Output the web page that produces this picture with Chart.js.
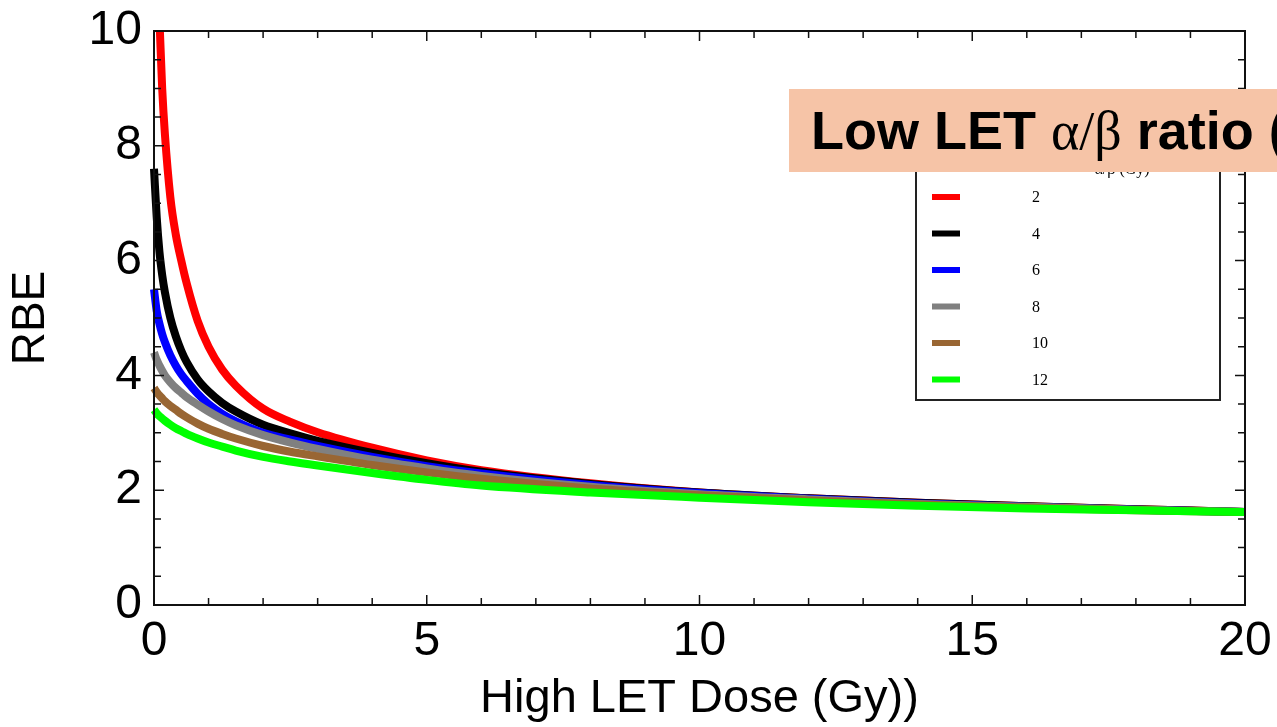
<!DOCTYPE html>
<html>
<head>
<meta charset="utf-8">
<script src="https://cdn.jsdelivr.net/npm/chart.js@4"></script>
<style>
  body { margin: 0; overflow: hidden; background: #fff; }
  #wrap { position: relative; width: 1277px; height: 727px; overflow: hidden; }
  #titulo {
    position: absolute; left: 789px; top: 89px; width: 520px; height: 83px;
    background: #f6c4a7; font: bold 54px "Liberation Sans", Arial, sans-serif;
    line-height: 83px; padding-left: 22px; white-space: nowrap; color: #000;
  }
  #titulo span { font-family: "Liberation Serif", serif; font-weight: normal; }
</style>
</head>
<body>
<div id="wrap">
  <canvas id="myChart" width="1277" height="727"></canvas>
  <div id="titulo">Low LET <span>&alpha;/&beta;</span> ratio (</div>
</div>
<script>
// datos
const dosis = [0, 0.05, 0.1, 0.15, 0.2, 0.3, 0.4, 0.5, 0.6, 0.8, 1, 1.25, 1.5, 2, 2.5, 3, 4, 5, 6, 8, 10, 12, 14, 16, 18, 20];
const etiquetas = ["2", "4", "6", "8", "10", "12"]; // alfa/beta
const rbe2 = [12.5, 11.3, 10.2, 9.0, 8.2, 7.1, 6.45, 6.0, 5.6, 4.95, 4.5, 4.1, 3.82, 3.42, 3.19, 3.01, 2.74, 2.52, 2.35, 2.12, 1.96, 1.86, 1.78, 1.72, 1.67, 1.62];
const rbe4 = [7.6, 6.75, 6.15, 5.75, 5.45, 5.0, 4.68, 4.43, 4.23, 3.93, 3.72, 3.52, 3.37, 3.14, 2.99, 2.86, 2.65, 2.47, 2.32, 2.11, 1.96, 1.86, 1.78, 1.72, 1.67, 1.62];
const rbe6 = [5.5, 5.12, 4.9, 4.72, 4.58, 4.35, 4.17, 4.02, 3.9, 3.68, 3.5, 3.33, 3.2, 3.0, 2.88, 2.77, 2.58, 2.42, 2.29, 2.09, 1.95, 1.85, 1.77, 1.71, 1.66, 1.62];
const rbe8 = [4.4, 4.27, 4.17, 4.08, 4.0, 3.88, 3.78, 3.7, 3.62, 3.49, 3.37, 3.24, 3.13, 2.96, 2.83, 2.72, 2.53, 2.38, 2.25, 2.06, 1.93, 1.84, 1.76, 1.71, 1.66, 1.62];
const rbe10 = [3.78, 3.71, 3.65, 3.6, 3.55, 3.47, 3.4, 3.33, 3.27, 3.16, 3.07, 2.98, 2.9, 2.77, 2.67, 2.59, 2.44, 2.31, 2.2, 2.03, 1.91, 1.82, 1.75, 1.7, 1.65, 1.62];
const rbe12 = [3.4, 3.34, 3.29, 3.25, 3.21, 3.14, 3.08, 3.03, 2.98, 2.9, 2.83, 2.76, 2.69, 2.58, 2.5, 2.43, 2.3, 2.18, 2.08, 1.96, 1.87, 1.79, 1.73, 1.68, 1.65, 1.62];
const colores = ["#ff0000", "#000000", "#0000ff", "#808080", "#996633", "#00ff00"];

const series = [rbe2, rbe4, rbe6, rbe8, rbe10, rbe12];

const datasets = series.map((valores, i) => {
  return {
    label: etiquetas[i],
    data: valores.map((v, j) => ({ x: dosis[j], y: v })),
    borderColor: colores[i],
    borderWidth: 8,
    pointRadius: 0,
    cubicInterpolationMode: "monotone",
    order: series.length - i, // el verde queda arriba
    clip: { left: 4, top: 0, right: 0, bottom: 0 }
  };
});

// marco con ticks hacia adentro en los cuatro lados
const marco = {
  id: "marco",
  afterDatasetsDraw(chart) {
    const ctx = chart.ctx;
    const a = chart.chartArea;
    const sx = chart.scales.x;
    const sy = chart.scales.y;
    ctx.save();
    ctx.strokeStyle = "#111";
    ctx.lineWidth = 2;
    ctx.strokeRect(a.left, a.top, a.right - a.left, a.bottom - a.top);
    ctx.lineWidth = 1.5;
    ctx.beginPath();
    for (let v = 0; v <= 20; v += 1) {
      const px = sx.getPixelForValue(v);
      const len = v % 5 === 0 ? 10 : 7;
      ctx.moveTo(px, a.bottom); ctx.lineTo(px, a.bottom - len);
      ctx.moveTo(px, a.top); ctx.lineTo(px, a.top + len);
    }
    for (let v = 0; v <= 10; v += 0.5) {
      const py = sy.getPixelForValue(v);
      const len = v % 2 === 0 ? 10 : 7;
      ctx.moveTo(a.left, py); ctx.lineTo(a.left + len, py);
      ctx.moveTo(a.right, py); ctx.lineTo(a.right - len, py);
    }
    ctx.stroke();

    // leyenda propia
    const x0 = 916, y0 = 140, x1 = 1220, y1 = 400;
    ctx.fillStyle = "#fff";
    ctx.fillRect(x0, y0, x1 - x0, y1 - y0);
    ctx.strokeStyle = "#222";
    ctx.lineWidth = 2;
    ctx.strokeRect(x0, y0, x1 - x0, y1 - y0);
    ctx.fillStyle = "#000";
    ctx.font = "16px 'Liberation Serif', serif";
    ctx.textBaseline = "alphabetic";
    ctx.textAlign = "center";
    ctx.fillText("\u03b1/\u03b2 (Gy)", 1122, 174);
    ctx.textAlign = "left";
    ctx.textBaseline = "middle";
    chart.data.datasets.forEach((ds, i) => {
      const y = 197 + i * 36.5;
      ctx.strokeStyle = ds.borderColor;
      ctx.lineWidth = 6;
      ctx.beginPath();
      ctx.moveTo(932, y); ctx.lineTo(960, y);
      ctx.stroke();
      ctx.fillStyle = "#000";
      ctx.fillText(ds.label, 1032, y + 1);
    });
    ctx.restore();
  }
};

const fuente = "'Liberation Sans', Arial, sans-serif";

new Chart(document.getElementById("myChart"), {
  type: "line",
  data: { datasets },
  plugins: [marco],
  options: {
    responsive: false,
    animation: false,
    layout: { padding: { top: 31, right: 32, left: 0, bottom: 0 } },
    plugins: { legend: { display: false }, tooltip: { enabled: false } },
    scales: {
      x: {
        type: "linear",
        min: 0,
        max: 20,
        grid: { display: false, drawTicks: false },
        border: { display: false },
        ticks: { stepSize: 5, padding: 8, color: "#000", font: { family: fuente, size: 48 } },
        title: { display: true, text: "High LET Dose (Gy))", color: "#000", font: { family: fuente, size: 47 }, padding: 0 },
        afterFit(scale) { scale.height = 122; scale.paddingLeft = 0; scale.paddingRight = 0; }
      },
      y: {
        min: 0,
        max: 10,
        grid: { display: false, drawTicks: false },
        border: { display: false },
        ticks: { stepSize: 2, padding: 12, color: "#000", font: { family: fuente, size: 48 } },
        title: { display: true, text: "RBE", color: "#000", font: { family: fuente, size: 46 }, padding: 4 },
        afterFit(scale) { scale.width = 154; scale.paddingTop = 0; scale.paddingBottom = 0; }
      }
    }
  }
});
</script>
</body>
</html>
